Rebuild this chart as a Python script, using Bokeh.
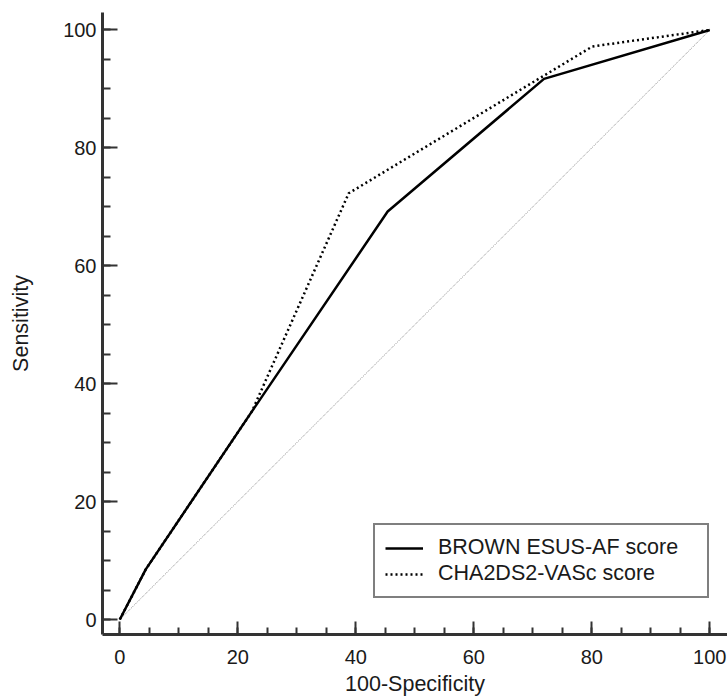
from bokeh.plotting import figure
from bokeh.models import Range1d, Legend, LegendItem, FixedTicker
from bokeh.embed import file_html
from bokeh.resources import INLINE

# data
brown_x = [0, 4.4, 22.4, 45.4, 71.9, 100]
brown_y = [0, 8.5, 35.3, 69.2, 91.7, 100]
cha_x = [0, 4.4, 22.4, 38.8, 80.1, 100]
cha_y = [0, 8.5, 35.3, 72.3, 97.2, 100]
diag_x = [0, 100]
diag_y = [0, 100]
major_ticks = [0, 20, 40, 60, 80, 100]
minor_ticks = [v for v in range(0, 101, 5)]
series_names = ["BROWN ESUS-AF score", "CHA2DS2-VASc score"]

FONT = "Liberation Sans"
AX = "#333333"

p = figure(width=727, height=698, output_backend="svg", toolbar_location=None,
           x_range=Range1d(-2.93, 103.0), y_range=Range1d(-2.54, 102.96),
           min_border_left=102, min_border_right=0, min_border_top=12, min_border_bottom=63)
p.outline_line_color = None
p.grid.visible = False
p.background_fill_color = "white"

for ax in (p.xaxis[0], p.yaxis[0]):
    ax.ticker = FixedTicker(ticks=major_ticks, minor_ticks=minor_ticks)
    ax.axis_line_width = 3
    ax.axis_line_color = AX
    ax.major_tick_out = 0
    ax.minor_tick_out = 0
    ax.major_tick_line_width = 2
    ax.minor_tick_line_width = 2
    ax.major_tick_line_color = AX
    ax.minor_tick_line_color = AX
    ax.major_label_text_font = FONT
    ax.major_label_text_font_size = "20px"
    ax.major_label_text_color = "#1a1a1a"
    ax.axis_label_text_font = FONT
    ax.axis_label_text_font_size = "21.5px"
    ax.axis_label_text_font_style = "normal"
    ax.axis_label_text_color = "#1a1a1a"

p.yaxis.major_tick_in = 15
p.yaxis.minor_tick_in = 8
p.xaxis.major_tick_in = 13
p.xaxis.minor_tick_in = 7

p.xaxis.axis_label = "100-Specificity"
p.yaxis.axis_label = "Sensitivity"
p.xaxis.major_label_standoff = 15
p.yaxis.major_label_standoff = 6
p.xaxis.axis_label_standoff = 5
p.yaxis.axis_label_standoff = 27

p.line(diag_x, diag_y, line_color="#8c8c8c", line_width=1, line_dash="1 1")
r1 = p.line(brown_x, brown_y, line_color="black", line_width=2.5)
r2 = p.line(cha_x, cha_y, line_color="black", line_width=2.5, line_dash="2 3")

legend = Legend(items=[LegendItem(label=series_names[0], renderers=[r1]),
                       LegendItem(label=series_names[1], renderers=[r2])],
                location=(271, 36), padding=10, spacing=1,
                glyph_width=38, glyph_height=22, label_height=22, label_width=259,
                label_standoff=15, label_text_font=FONT, label_text_font_size="21.5px",
                label_text_color="#1a1a1a",
                border_line_color="black", border_line_width=2,
                background_fill_alpha=1.0, margin=0)
p.add_layout(legend, "center")

open("out.html", "w").write(file_html(p, INLINE))
